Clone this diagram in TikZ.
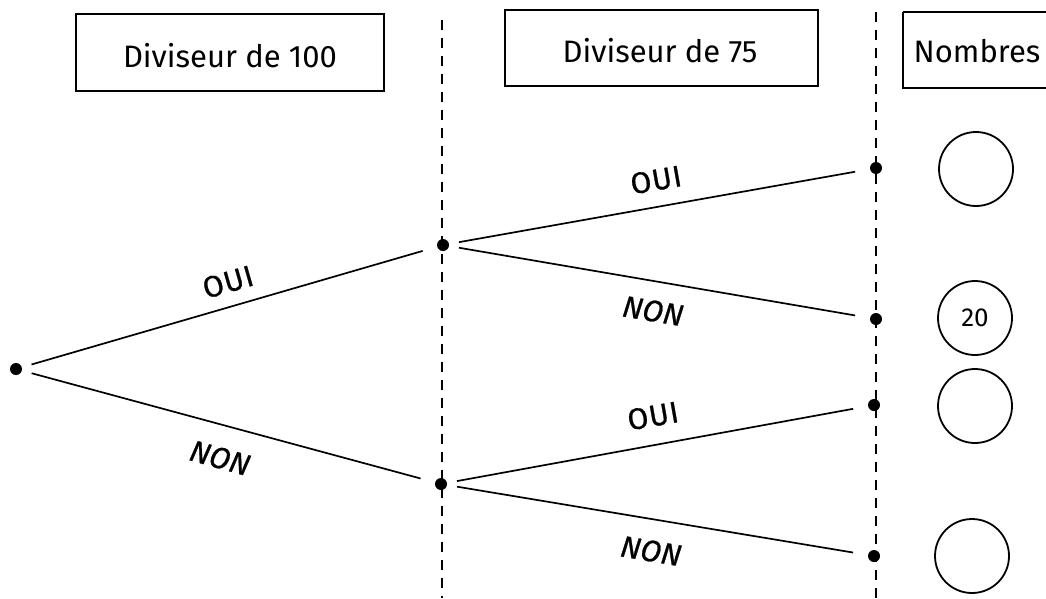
\documentclass[tikz,border=0pt]{standalone}
\usepackage{fontspec}
\setmainfont{Fira Sans}
\begin{document}
\begin{tikzpicture}[x=1pt,y=-1pt,
  hdr/.style={font=\fontsize{31}{34}\selectfont,anchor=base,inner sep=0pt},
  hbox/.style={draw,line width=1.6pt},
  dot/.style={circle,fill=black,inner sep=0pt,minimum size=12pt},
  branch/.style={line width=1.7pt,shorten <=10pt,shorten >=15pt},
  sep/.style={line width=1.8pt,dash pattern=on 10pt off 8pt},
  lbl/.style={font=\fontsize{30}{33}\selectfont\addfontfeatures{LetterSpace=3,FakeBold=0.8}},
  lbln/.style={font=\fontsize{30}{33}\selectfont\itshape\addfontfeatures{FakeBold=0.8}},
  res/.style={circle,draw,line width=1.8pt,minimum size=74pt,inner sep=0pt,font=\fontsize{26}{28}\selectfont}]
\clip (0,0) rectangle (1046,598);
\fill[white] (0,0) rectangle (1046,598);
% header boxes
\draw[hbox] (76,14) rectangle (384,91);
\node[hdr] (h1) at (230,67) {Diviseur de 100};
\draw[hbox] (505,10) rectangle (818,86);
\node[hdr] (h2) at (660,62) {Diviseur de 75};
\draw[hbox] (903,12) -- (1060,12) (903,12) -- (903,88) -- (1060,88);
\node[hdr] (h3) at (977,62) {Nombres};
% separators
\coordinate (s1t) at (442,20); \coordinate (s1b) at (442,598);
\coordinate (s2t) at (876,12); \coordinate (s2b) at (876,598);
\draw[sep] (s1t) -- (s1b);
\draw[sep] (s2t) -- (s2b);
% dots
\node[dot] (r) at (16,369) {};
\node[dot] (a) at (443,245) {};
\node[dot] (b) at (441,484) {};
\node[dot] (d1) at (876,168) {};
\node[dot] (d2) at (876,319) {};
\node[dot] (d3) at (874,405) {};
\node[dot] (d4) at (874,556) {};
% branches
\draw[branch] (r) -- (a);
\draw[branch] (r) -- (b);
\draw[branch] (a) -- (d1);
\draw[branch] (a) -- (d2);
\draw[branch] (b) -- (d3);
\draw[branch] (b) -- (d4);
% labels
\node[lbl,rotate=16] (l1) at (228,282) {OUI};
\node[lbln,rotate=-15.5] (l2) at (220,458) {NON};
\node[lbl,rotate=10] (l3) at (656,180) {OUI};
\node[lbln,rotate=-9.5] (l4) at (653,311) {NON};
\node[lbl,rotate=10] (l5) at (653,416) {OUI};
\node[lbln,rotate=-9.5] (l6) at (651,551) {NON};
% result circles
\node[res] (c1) at (976,169) {};
\node[res] (c2) at (975,318) {20};
\node[res] (c3) at (975,406) {};
\node[res] (c4) at (972,556) {};
\end{tikzpicture}
\end{document}
